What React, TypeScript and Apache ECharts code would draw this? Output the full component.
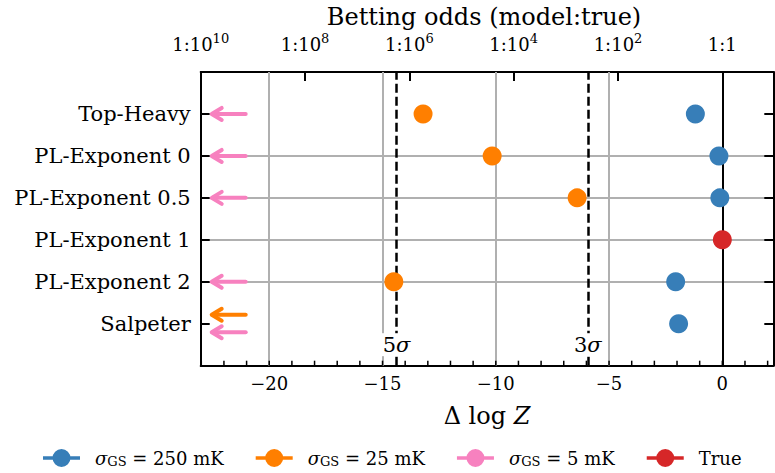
import { useEffect, useRef } from 'react';
import * as echarts from 'echarts';

// ---------- data ----------
const categories = ['Top-Heavy', 'PL-Exponent 0', 'PL-Exponent 0.5', 'PL-Exponent 1', 'PL-Exponent 2', 'Salpeter'];
const sigma250 = [-1.19, -0.15, -0.11, null, -2.06, -1.93];
const sigma25 = [-13.21, -10.16, -6.41, null, -14.5, null];
const sigma25OffScale = [false, false, false, false, false, true];
const sigma5OffScale = [true, true, true, false, true, true];
const trueModel = [null, null, null, 0, null, null];
const sigmaLevels = [5, 3];
const sigmaThresholds = [-14.38, -5.94];
const xMajorTicks = [-20, -15, -10, -5, 0];
const xGridValues = [-20, -15, -10, -5];
const oddsExponents = [10, 8, 6, 4, 2, 0];

const BLUE = '#377eb8';
const ORANGE = '#ff7f00';
const PINK = '#f781bf';
const RED = '#d62728';
const GRAY = '#b0b0b0';
const FONT = "'DejaVu Serif', serif";

const xMin = -10 * Math.LN10;
const xMax = 2.25;
const rowY = (i: number) => categories.length - 1 - i;
const rowValues = categories.map((_, i) => rowY(i));
const oddsValues = oddsExponents.map((e) => -e * Math.LN10);
const minorTicks: number[] = [];
for (let v = Math.ceil(xMin); v <= Math.floor(xMax); v++) minorTicks.push(v);

const pts = (arr: (number | null)[]) =>
  arr.map((v, i) => (v === null ? null : [v, rowY(i)])).filter((d) => d !== null);

const arrowData = (flags: boolean[], offsetWhenShared: number) =>
  flags
    .map((f, i) => {
      if (!f) return null;
      const shared = sigma25OffScale[i] && sigma5OffScale[i];
      return [xMin, rowY(i), shared ? offsetWhenShared : 0];
    })
    .filter((d) => d !== null);

const arrowRender = (color: string) => (params: any, api: any) => {
  const cs = params.coordSys;
  const p = api.coord([api.value(0), api.value(1)]);
  const y = p[1] + api.value(2);
  const x0 = cs.x + 11;
  return {
    type: 'group',
    children: [
      { type: 'line', shape: { x1: x0 + 1, y1: y, x2: x0 + 34, y2: y }, style: { stroke: color, lineWidth: 4, lineCap: 'round' } },
      {
        type: 'polyline',
        shape: { points: [[x0 + 10, y - 6], [x0, y], [x0 + 10, y + 6]] },
        style: { stroke: color, lineWidth: 4, fill: null, lineJoin: 'round', lineCap: 'round' },
      },
    ],
  };
};

const ICON = 'path://M0 7.25 H37 V10.75 H0 Z M27.5 9 A9 9 0 1 1 9.5 9 A9 9 0 1 1 27.5 9 Z';

const legendLabels: Record<string, string> = {
  '250mK': '{g| }{s|σ}{sub|GS} = 250 mK',
  '25mK': '{g| }{s|σ}{sub|GS} = 25 mK',
  '5mK': '{g| }{s|σ}{sub|GS} = 5 mK',
  True: '{g| }True',
};

const fmtMinus = (v: number) => (v < 0 ? '\u2212' + Math.abs(v) : String(v));

const axisLineStyle = { color: '#000', width: 2 };

const option: any = {
  animation: false,
  backgroundColor: '#fff',
  grid: { left: 200.7, right: 1.7, top: 72, bottom: 107.3, containLabel: false },
  xAxis: [
    {
      type: 'value',
      position: 'bottom',
      min: xMin,
      max: xMax,
      axisLine: { show: true, onZero: false, lineStyle: axisLineStyle },
      axisTick: { show: true, inside: true, length: 9, customValues: xMajorTicks, lineStyle: axisLineStyle },
      axisLabel: { customValues: xMajorTicks, formatter: fmtMinus, margin: 9, color: '#000', fontFamily: FONT, fontSize: 18 },
      splitLine: { show: false },
    },
    {
      type: 'value',
      position: 'top',
      min: xMin,
      max: xMax,
      axisLine: { show: true, onZero: false, lineStyle: axisLineStyle },
      axisTick: { show: true, inside: true, length: 9, customValues: oddsValues, lineStyle: axisLineStyle },
      axisLabel: {
        customValues: oddsValues,
        margin: 15,
        color: '#000',
        formatter: (v: number) => {
          const e = Math.round(-v / Math.LN10);
          return e === 0 ? '{b|1:1}' : `{b|1:10}{sup|${e}}`;
        },
        rich: {
          b: { fontFamily: FONT, fontSize: 18, color: '#000', lineHeight: 25 },
          sup: { fontFamily: FONT, fontSize: 13, color: '#000', padding: [0, 0, 12, 0] },
        },
      },
      splitLine: { show: false },
    },
  ],
  yAxis: [
    {
      type: 'value',
      position: 'left',
      min: -1,
      max: 6,
      interval: 1,
      axisLine: { show: true, onZero: false, lineStyle: axisLineStyle },
      axisTick: { show: true, inside: true, length: 9, customValues: rowValues, lineStyle: axisLineStyle },
      axisLabel: {
        customValues: rowValues,
        formatter: (v: number) => categories[categories.length - 1 - Math.round(v)] ?? '',
        margin: 10,
        color: '#000',
        fontFamily: FONT,
        fontSize: 21,
      },
      splitLine: { show: true, showMinLine: false, showMaxLine: false, lineStyle: { color: GRAY, width: 2 } },
    },
    {
      type: 'value',
      position: 'right',
      min: -1,
      max: 6,
      interval: 1,
      axisLine: { show: true, onZero: false, lineStyle: axisLineStyle },
      axisTick: { show: true, inside: true, length: 9, customValues: rowValues, lineStyle: axisLineStyle },
      axisLabel: { show: false },
      splitLine: { show: false },
    },
  ],
  legend: {
    left: 43,
    top: 449,
    padding: 0,
    itemWidth: 37,
    itemHeight: 18,
    itemGap: 32,
    selectedMode: false,
    data: [
      { name: '250mK', icon: ICON, itemStyle: { color: BLUE } },
      { name: '25mK', icon: ICON, itemStyle: { color: ORANGE } },
      { name: '5mK', icon: ICON, itemStyle: { color: PINK } },
      { name: 'True', icon: ICON, itemStyle: { color: RED } },
    ],
    formatter: (name: string) => legendLabels[name] ?? name,
    textStyle: {
      color: '#000',
      fontFamily: FONT,
      fontSize: 18,
      rich: {
        g: { width: 10, fontSize: 12 },
        s: { fontFamily: FONT, fontSize: 18, fontStyle: 'italic', color: '#000' },
        sub: { fontFamily: FONT, fontSize: 13, color: '#000', padding: [7, 0, 0, 0] },
      },
    },
  },
  graphic: [
    {
      type: 'text',
      x: 484,
      y: 17,
      style: {
        text: 'Betting odds (model:true)',
        fontFamily: FONT,
        fontSize: 24,
        fill: '#000',
        align: 'center',
        verticalAlign: 'middle',
        textAlign: 'center',
        textVerticalAlign: 'middle',
      },
    },
    {
      type: 'text',
      x: 487,
      y: 416,
      style: {
        text: 'Δ log {i|Z}',
        fontFamily: FONT,
        fontSize: 24,
        fill: '#000',
        align: 'center',
        verticalAlign: 'middle',
        textAlign: 'center',
        textVerticalAlign: 'middle',
        rich: { i: { fontFamily: FONT, fontSize: 24, fontStyle: 'italic', fill: '#000', color: '#000' } },
      },
    },
  ],
  series: [
    {
      name: 'gridlines',
      type: 'scatter',
      data: [],
      silent: true,
      markLine: {
        silent: true,
        z: 1,
        symbol: ['none', 'none'],
        label: { show: false },
        emphasis: { disabled: true },
        lineStyle: { color: GRAY, width: 2, type: 'solid' },
        data: xGridValues.map((v) => ({ xAxis: v })),
      },
    },
    {
      name: 'refs',
      type: 'scatter',
      data: [],
      silent: true,
      markLine: {
        silent: true,
        z: 3,
        symbol: ['none', 'none'],
        label: { show: false },
        emphasis: { disabled: true },
        lineStyle: { color: '#000', width: 2, type: 'solid' },
        data: [
          { xAxis: 0, lineStyle: { color: '#000', width: 2, type: 'solid' } },
          ...sigmaThresholds.map((v) => ({ xAxis: v, lineStyle: { color: '#000', width: 2.5, type: [9, 4] } })),
        ],
      },
    },
    {
      name: 'minorTicks',
      type: 'custom',
      silent: true,
      clip: false,
      z: 4,
      data: minorTicks.map((v) => [v, -1]),
      renderItem: (params: any, api: any) => {
        const p = api.coord([api.value(0), api.value(1)]);
        return {
          type: 'line',
          shape: { x1: p[0], y1: p[1], x2: p[0], y2: p[1] - 5 },
          style: { stroke: '#000', lineWidth: 1.5 },
        };
      },
    },
    {
      name: 'sigmaLabels',
      type: 'custom',
      silent: true,
      clip: false,
      z: 6,
      data: sigmaThresholds.map((v) => [v, -1]),
      renderItem: (params: any, api: any) => {
        const p = api.coord([api.value(0), api.value(1)]);
        return {
          type: 'text',
          x: p[0],
          y: p[1] - 21,
          style: {
            text: `${sigmaLevels[params.dataIndex]}{i|σ}`,
            fontFamily: FONT,
            fontSize: 21,
            fill: '#000',
            align: 'center',
            verticalAlign: 'middle',
            backgroundColor: '#fff',
            padding: [1, 1],
            rich: { i: { fontFamily: FONT, fontSize: 21, fontStyle: 'italic', fill: '#000' } },
          },
        };
      },
    },
    {
      name: '250mK',
      type: 'scatter',
      z: 10,
      symbolSize: 19,
      itemStyle: { color: BLUE, opacity: 1 },
      data: pts(sigma250),
    },
    {
      name: '25mK',
      type: 'scatter',
      z: 10,
      symbolSize: 19,
      itemStyle: { color: ORANGE, opacity: 1 },
      data: pts(sigma25),
    },
    {
      name: '25mK-arrows',
      type: 'custom',
      silent: true,
      clip: false,
      z: 10,
      itemStyle: { color: ORANGE },
      encode: { x: 0, y: 1 },
      data: arrowData(sigma25OffScale, -9),
      renderItem: arrowRender(ORANGE),
    },
    {
      name: '5mK',
      type: 'custom',
      silent: true,
      clip: false,
      z: 10,
      itemStyle: { color: PINK },
      encode: { x: 0, y: 1 },
      data: arrowData(sigma5OffScale, 8.5),
      renderItem: arrowRender(PINK),
    },
    {
      name: 'True',
      type: 'scatter',
      z: 11,
      symbolSize: 19,
      itemStyle: { color: RED, opacity: 1 },
      data: pts(trueModel),
    },
  ],
};

export default function App() {
  const ref = useRef<HTMLDivElement>(null);
  useEffect(() => {
    const chart = echarts.init(ref.current!, null, { renderer: 'svg' });
    chart.setOption(option);
    return () => chart.dispose();
  }, []);
  return (
    <div
      ref={ref}
      style={{ position: 'fixed', left: 0, top: 0, width: 775, height: 473, background: '#fff' }}
    />
  );
}
